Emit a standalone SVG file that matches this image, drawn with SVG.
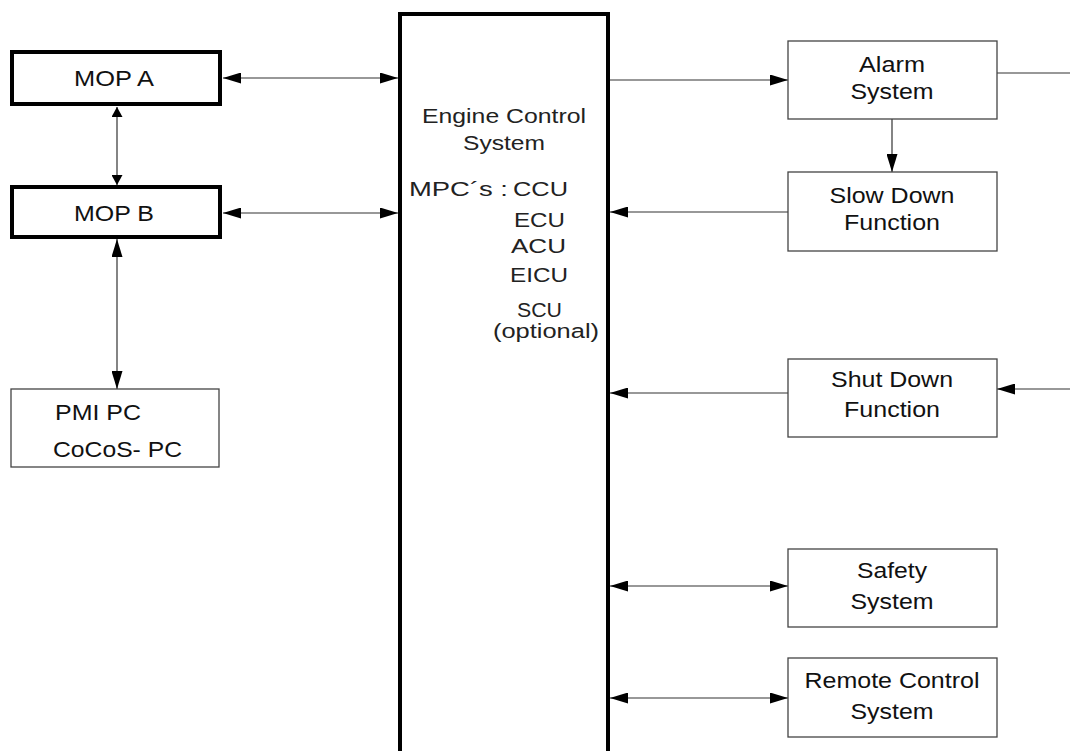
<svg xmlns="http://www.w3.org/2000/svg" width="1070" height="751" viewBox="0 0 1070 751">
<style>
.thick{fill:#fff;stroke:#000;stroke-width:4}
.thin{fill:#fff;stroke:#444;stroke-width:1.3}
.t{font-family:"Liberation Sans",Arial,sans-serif;font-size:21.5px;fill:#111}
.e{font-family:"Liberation Sans",Arial,sans-serif;font-size:20.5px;fill:#222}
.c{text-anchor:middle}
.ln{stroke:#333;stroke-width:1.2;fill:none}
</style>
<defs>
<marker id="a" viewBox="0 0 18 11" refX="18" refY="5.5" markerWidth="18" markerHeight="11" markerUnits="userSpaceOnUse" orient="auto-start-reverse"><path d="M0,0 L18,5.5 L0,11 z" fill="#000"/></marker>
<marker id="s" viewBox="0 0 10 11" refX="10" refY="5.5" markerWidth="10" markerHeight="11" markerUnits="userSpaceOnUse" orient="auto-start-reverse"><path d="M0,0 L10,5.5 L0,11 z" fill="#000"/></marker>
</defs>
<rect width="1070" height="751" fill="#fff"/>
<g id="connectors">
<line class="ln" x1="223" y1="78" x2="398" y2="78" marker-start="url(#a)" marker-end="url(#a)"/>
<line class="ln" x1="223" y1="213" x2="398" y2="213" marker-start="url(#a)" marker-end="url(#a)"/>
<line class="ln" x1="117" y1="107" x2="117" y2="185" marker-start="url(#s)" marker-end="url(#s)"/>
<line class="ln" x1="117" y1="239" x2="117" y2="389" marker-start="url(#a)" marker-end="url(#a)"/>
<line class="ln" x1="610" y1="80" x2="788" y2="80" marker-end="url(#a)"/>
<line class="ln" x1="892" y1="119" x2="892" y2="172" marker-end="url(#a)"/>
<line class="ln" x1="788" y1="212" x2="610" y2="212" marker-end="url(#a)"/>
<line class="ln" x1="997" y1="73" x2="1070" y2="73"/>
<line class="ln" x1="1070" y1="389" x2="997" y2="389" marker-end="url(#a)"/>
<line class="ln" x1="788" y1="393" x2="610" y2="393" marker-end="url(#a)"/>
<line class="ln" x1="610" y1="586" x2="788" y2="586" marker-start="url(#a)" marker-end="url(#a)"/>
<line class="ln" x1="610" y1="698" x2="788" y2="698" marker-start="url(#a)" marker-end="url(#a)"/>
</g>
<g id="ecs">
<rect class="thick" x="400" y="14" width="208" height="800"/>
<text class="e" x="422" y="123" textLength="164" lengthAdjust="spacingAndGlyphs">Engine Control</text>
<text class="e" x="463" y="150" textLength="82" lengthAdjust="spacingAndGlyphs">System</text>
<text class="e" x="409" y="196" textLength="99" lengthAdjust="spacingAndGlyphs">MPC´s :</text>
<text class="e" x="513" y="196" textLength="55" lengthAdjust="spacingAndGlyphs">CCU</text>
<text class="e" x="514" y="227" textLength="51" lengthAdjust="spacingAndGlyphs">ECU</text>
<text class="e" x="511" y="253" textLength="55" lengthAdjust="spacingAndGlyphs">ACU</text>
<text class="e" x="510" y="282" textLength="58" lengthAdjust="spacingAndGlyphs">EICU</text>
<text class="e" x="517" y="317" textLength="45" lengthAdjust="spacingAndGlyphs">SCU</text>
<text class="e" x="493" y="338" textLength="106" lengthAdjust="spacingAndGlyphs">(optional)</text>
</g>
<g id="mopA">
<rect class="thick" x="12" y="52" width="208" height="52"/>
<text class="t" x="74" y="86" textLength="80" lengthAdjust="spacingAndGlyphs">MOP A</text>
</g>
<g id="mopB">
<rect class="thick" x="12" y="187" width="208" height="50"/>
<text class="t" x="74" y="221" textLength="80" lengthAdjust="spacingAndGlyphs">MOP B</text>
</g>
<g id="pmi">
<rect class="thin" x="11" y="389" width="208" height="78"/>
<text class="t" x="55" y="420" textLength="86" lengthAdjust="spacingAndGlyphs">PMI PC</text>
<text class="t" x="53" y="457" textLength="129" lengthAdjust="spacingAndGlyphs">CoCoS- PC</text>
</g>
<g id="alarm">
<rect class="thin" x="788" y="41" width="209" height="78"/>
<text class="t c" x="892" y="72" textLength="66" lengthAdjust="spacingAndGlyphs">Alarm</text>
<text class="t c" x="892" y="99" textLength="83" lengthAdjust="spacingAndGlyphs">System</text>
</g>
<g id="slowdown">
<rect class="thin" x="788" y="172" width="209" height="79"/>
<text class="t c" x="892" y="203" textLength="125" lengthAdjust="spacingAndGlyphs">Slow Down</text>
<text class="t c" x="892" y="230" textLength="96" lengthAdjust="spacingAndGlyphs">Function</text>
</g>
<g id="shutdown">
<rect class="thin" x="788" y="359" width="209" height="78"/>
<text class="t c" x="892" y="387" textLength="122" lengthAdjust="spacingAndGlyphs">Shut Down</text>
<text class="t c" x="892" y="417" textLength="96" lengthAdjust="spacingAndGlyphs">Function</text>
</g>
<g id="safety">
<rect class="thin" x="788" y="549" width="209" height="78"/>
<text class="t c" x="892" y="578" textLength="70" lengthAdjust="spacingAndGlyphs">Safety</text>
<text class="t c" x="892" y="609" textLength="83" lengthAdjust="spacingAndGlyphs">System</text>
</g>
<g id="remote">
<rect class="thin" x="788" y="658" width="209" height="79"/>
<text class="t c" x="892" y="688" textLength="175" lengthAdjust="spacingAndGlyphs">Remote Control</text>
<text class="t c" x="892" y="719" textLength="83" lengthAdjust="spacingAndGlyphs">System</text>
</g>
</svg>
